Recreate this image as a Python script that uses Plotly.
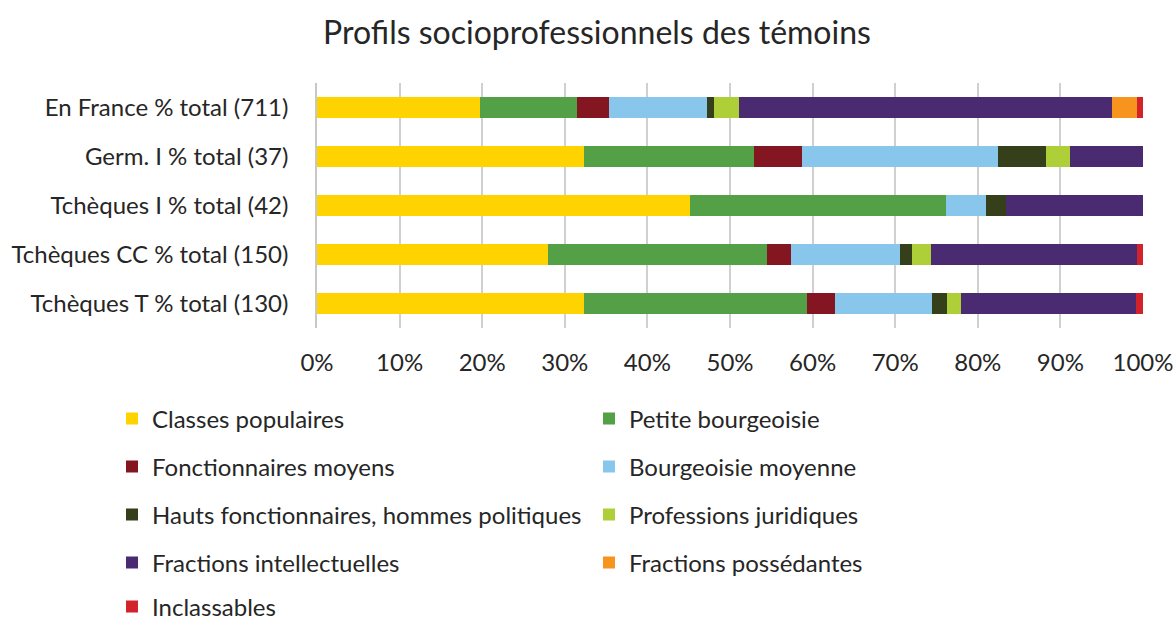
import plotly.graph_objects as go

categories = [
    "En France % total (711)",
    "Germ. I % total (37)",
    "Tchèques I % total (42)",
    "Tchèques CC % total (150)",
    "Tchèques T % total (130)",
]

series_names = [
    "Classes populaires",
    "Petite bourgeoisie",
    "Fonctionnaires moyens",
    "Bourgeoisie moyenne",
    "Hauts fonctionnaires, hommes politiques",
    "Professions juridiques",
    "Fractions intellectuelles",
    "Fractions possédantes",
    "Inclassables",
]

classes_populaires = [19.7, 32.3, 45.2, 28.0, 32.3]
petite_bourgeoisie = [11.8, 20.6, 31.0, 26.5, 27.0]
fonctionnaires_moyens = [3.9, 5.8, 0.0, 2.9, 3.4]
bourgeoisie_moyenne = [11.8, 23.7, 4.8, 13.2, 11.8]
hauts_fonctionnaires = [0.9, 5.8, 2.4, 1.4, 1.8]
professions_juridiques = [3.0, 3.0, 0.0, 2.3, 1.7]
fractions_intellectuelles = [45.2, 8.8, 16.6, 25.0, 21.1]
fractions_possedantes = [3.0, 0.0, 0.0, 0.0, 0.0]
inclassables = [0.7, 0.0, 0.0, 0.7, 0.9]

series_values = [
    classes_populaires, petite_bourgeoisie, fonctionnaires_moyens,
    bourgeoisie_moyenne, hauts_fonctionnaires, professions_juridiques,
    fractions_intellectuelles, fractions_possedantes, inclassables,
]

colors = ["#FFD300", "#53A047", "#841621", "#89C6EC", "#35401A",
          "#AECF37", "#4A2A70", "#F7941E", "#D2232A"]

tick_vals = list(range(0, 101, 10))
tick_text = [f"{v}%" for v in tick_vals]

FONT = "Lato, 'Open Sans', sans-serif"
TXT = "#262626"
FS = 24

legend_ids = ["legend", "legend", "legend2", "legend2", "legend3",
              "legend3", "legend4", "legend4", "legend5"]

fig = go.Figure()
for name, vals, col, lg in zip(series_names, series_values, colors, legend_ids):
    fig.add_trace(go.Bar(
        y=categories, x=vals, name=name, orientation="h",
        marker=dict(color=col, line=dict(width=0)),
        legend=lg,
        hovertemplate="%{y}<br>" + name + ": %{x:.1f}%<extra></extra>",
    ))

# plot area in pixels
L, R, T, B = 317, 32, 83, 293
W, H = 1175, 621
pw, ph = W - L - R, H - T - B

row_y = [419, 467, 515, 563, 607]
leg_x_px = 112
leg_common = dict(
    orientation="h", xref="paper", yref="paper",
    xanchor="left", yanchor="middle",
    font=dict(family=FONT, size=FS, color=TXT),
    entrywidth=432, entrywidthmode="pixels",
    bgcolor="rgba(0,0,0,0)", borderwidth=0, traceorder="normal",
    itemclick=False, itemdoubleclick=False,
)
legends = {}
for i, yy in enumerate(row_y):
    key = "legend" if i == 0 else f"legend{i+1}"
    legends[key] = dict(leg_common, x=(leg_x_px - L) / pw, y=(H - B - yy) / ph)

fig.update_layout(
    barmode="stack",
    bargap=0.59,
    width=W, height=H,
    margin=dict(l=L, r=R, t=T, b=B, autoexpand=False),
    paper_bgcolor="white", plot_bgcolor="white",
    font=dict(family=FONT, size=FS, color=TXT),
    title=dict(
        text="Profils socioprofessionnels des témoins",
        xref="container", yref="container",
        x=597 / W, y=1 - 33 / H, xanchor="center", yanchor="middle",
        font=dict(family=FONT, size=32, color=TXT),
    ),
    xaxis=dict(
        range=[0, 100], tickvals=tick_vals, ticktext=tick_text,
        showgrid=True, gridcolor="#D0D0D0", gridwidth=1.5,
        zeroline=False, showline=False, ticks="",
        ticklabelstandoff=18,
        tickfont=dict(family=FONT, size=FS, color=TXT),
        fixedrange=True,
    ),
    yaxis=dict(
        autorange="reversed", showgrid=False, zeroline=False,
        showline=True, linecolor="#C8C8C8", linewidth=1.5, ticks="",
        ticklabelstandoff=22,
        tickfont=dict(family=FONT, size=FS, color=TXT),
        fixedrange=True,
    ),
    showlegend=True,
    **legends,
)

fig.write_html(
    "out.html",
    config={"displayModeBar": False},
    post_script="document.body.style.margin='0';document.body.style.overflow='hidden';",
)
